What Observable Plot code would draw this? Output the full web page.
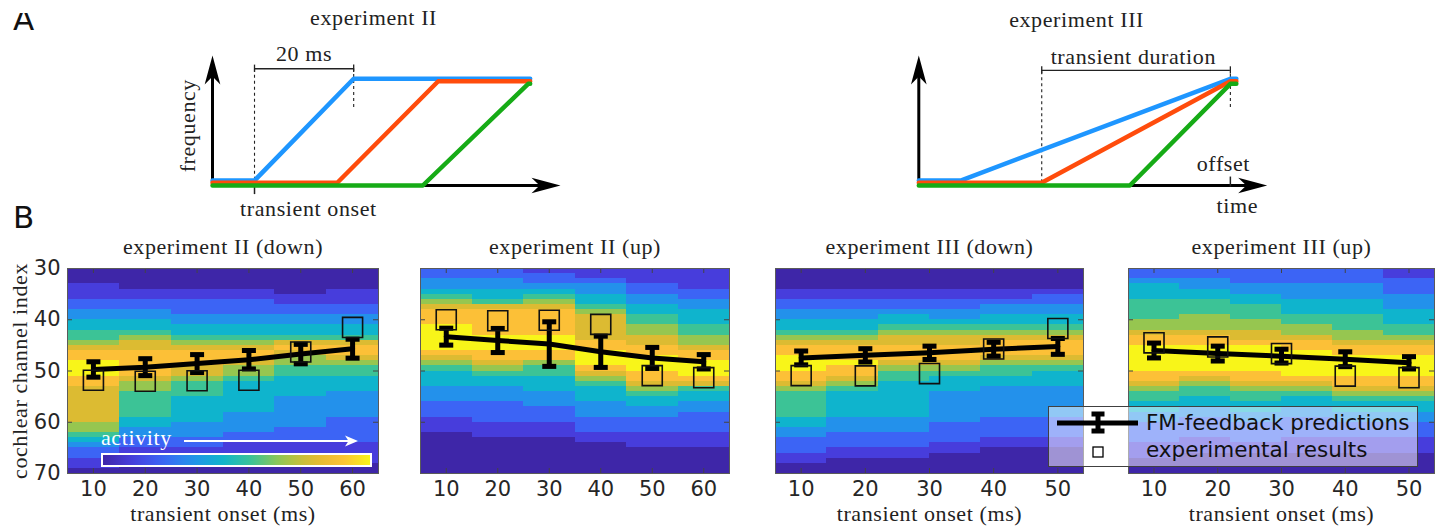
<!DOCTYPE html>
<html>
<head>
<meta charset="utf-8">
<script src="https://cdn.jsdelivr.net/npm/d3@7"></script>
<script src="https://cdn.jsdelivr.net/npm/@observablehq/plot@0.6"></script>
<style>
  html, body { margin: 0; padding: 0; background: #fff; }
  #fig { position: relative; width: 1444px; height: 529px; overflow: hidden; background: #fff; }
  #fig > * { position: absolute; }
</style>
</head>
<body>
<div id="fig"></div>
<script>
// ---------- Panel A: schematic frequency sweeps (time in ms, frequency in relative units) ----------
const expIIBlue  = [[0, 0.038], [8.45, 0.038], [28.4, 0.821], [63.9, 0.821]];
const expIIRed   = [[0, 0.021], [25.1, 0.021], [45.4, 0.802], [63.9, 0.802]];
const expIIGreen = [[0, 0], [42.3, 0], [63.5, 0.782], [63.9, 0.782]];
const expIIIBlue  = [[0, 0.038], [8.4, 0.038], [62.6, 0.821], [63.8, 0.821]];
const expIIIRed   = [[0, 0.021], [24.7, 0.021], [62.6, 0.802], [63.8, 0.802]];
const expIIIGreen = [[0, 0], [42.4, 0], [62.6, 0.782], [63.8, 0.782]];
const sweepColors = ["#1e96ff", "#ff4c0c", "#16ab16"];

// ---------- Panel B: channel activity and predictions ----------
const channelTicks = [30, 40, 50, 60, 70];
const onsetsII  = [10, 20, 30, 40, 50, 60];
const onsetsIII = [10, 20, 30, 40, 50];
const heatColsII  = [10, 20, 30, 40, 50, 60];
const heatColsIII = [10, 18, 26, 34, 42, 50];

const predIIdown = [49.7, 49.25, 48.55, 47.8, 46.7, 45.65];
const errIIdown  = [1.5, 1.65, 1.75, 1.8, 1.9, 1.85];
const obsIIdown  = [51.8, 52.0, 51.9, 51.8, 46.3, 41.5];

const predIIup = [43.3, 44.05, 44.75, 46.25, 47.45, 48.2];
const errIIup  = [1.65, 2.35, 4.35, 3.05, 2.05, 1.4];
const obsIIup  = [40.0, 40.2, 40.1, 40.9, 50.9, 51.3];

const predIIIdown = [47.45, 46.95, 46.45, 45.75, 45.2];
const errIIIdown  = [1.35, 1.3, 1.3, 1.35, 1.55];
const obsIIIdown  = [50.9, 50.95, 50.5, 45.7, 41.7];

const predIIIup = [46.0, 46.6, 47.1, 47.7, 48.4];
const errIIIup  = [1.45, 1.45, 1.35, 1.45, 1.2];
const obsIIIup  = [44.5, 45.3, 46.6, 51.0, 51.3];

// activity level (0 = none … 9 = max) per channel 30→69, one string per onset column
const heatIIdown = [
  "0001112233445567889998877777776654322110",
  "0000112233445677888887665555544332211100",
  "0000112223344567888776555444443332211100",
  "0000112223344567887665444444333322111000",
  "0000011223344578766554444333333222111000",
  "0000111223344578876554443333322222111100"
];
const heatIIup = [
  "2233456788899999876544433322211100000000",
  "2233445788888999887654433322221110000000",
  "1223456788888999886554443332221110000000",
  "1123344567777788999876544433322211000000",
  "1112233445566778899988765443322211100000",
  "1111223344455667889998754433222211100000"
];
const heatIIIdown = [
  "0000112233445678899988765555544332221100",
  "0000112233445678889887654444433322211000",
  "0000112234456778887655444444433322211000",
  "0000112233456778887654443333332222110000",
  "0000112334456788876554433333322221100000",
  "0000122334456788876544433333322221100000"
];
const heatIIIup = [
  "2234445555667889999988765544332222111000",
  "2233445556667889999987655443322221110000",
  "2223344555667789999988765544332222110000",
  "2223334445566788999998765443322221110000",
  "2223334445556678899998876544332221110000",
  "1122233344455678899998876544332221110000"
];

// colormap stops for activity levels 0..9
const parulaStops = ["#3e26a8", "#473ddc", "#3c64f5", "#2391eb", "#0fb4cd",
                     "#3cc396", "#96c650", "#dcbb32", "#fcc037", "#f8f519"];
const parula = d3.piecewise(d3.interpolateRgb, parulaStops);

const SERIF = "Liberation Serif";
const SANS = "DejaVu Sans";
const fig = document.getElementById("fig");

function place(node, left, top) {
  node.style.position = "absolute";
  node.style.left = left + "px";
  node.style.top = top + "px";
  fig.appendChild(node);
  return node;
}
function spaceSerif(svg) {
  svg.querySelectorAll("[font-family]").forEach(el => {
    if (el.getAttribute("font-family").includes("Serif")) el.setAttribute("letter-spacing", "0.6px");
  });
  return svg;
}

// filled "stealth" arrowheads with the tip at the origin
const arrowRight = {draw(ctx, size) {
  const r = Math.sqrt(size / Math.PI);
  ctx.moveTo(0, 0); ctx.lineTo(-r, -0.27 * r); ctx.lineTo(-0.72 * r, 0); ctx.lineTo(-r, 0.27 * r); ctx.closePath();
}};
const arrowUp = {draw(ctx, size) {
  const r = Math.sqrt(size / Math.PI);
  ctx.moveTo(0, 0); ctx.lineTo(-0.27 * r, r); ctx.lineTo(0, 0.72 * r); ctx.lineTo(0.27 * r, r); ctx.closePath();
}};
// error-bar cap: a short thick horizontal bar
const capSymbol = {draw(ctx, size) {
  const r = Math.sqrt(size / Math.PI);
  ctx.rect(-r, -0.36 * r, 2 * r, 0.72 * r);
}};

const serifText = {fontFamily: SERIF, fontSize: 22, fill: "#222", text: d => d};

function sweepPlot({width, xRange, sweeps, extra}) {
  const data = sweeps.flatMap((pts, k) => pts.map(([t, f]) => ({t, f, k})));
  return spaceSerif(Plot.plot({
    width, height: 230, margin: 0,
    x: {domain: [0, 70], range: xRange, axis: null},
    y: {domain: [0, 1], range: [185, 55], axis: null},
    style: {background: "transparent", overflow: "visible"},
    marks: [
      Plot.ruleY([0], {x1: 0, x2: 66, stroke: "#000", strokeWidth: 3}),
      Plot.ruleX([0], {y1: -0.012, y2: 0.86, stroke: "#000", strokeWidth: 3}),
      Plot.dot([{t: 70, f: 0}], {x: "t", y: "f", symbol: arrowRight, r: 29, fill: "#000"}),
      Plot.dot([{t: 0, f: 1}], {x: "t", y: "f", symbol: arrowUp, r: 29, fill: "#000"}),
      ...extra,
      ...[0, 1, 2].map(k => Plot.line(data.filter(d => d.k === k),
        {x: "t", y: "f", stroke: sweepColors[k], strokeWidth: 4.5}))
    ]
  }));
}

// experiment II schematic: fixed 20 ms transitions with shifted onsets
const onII = expIIBlue[1][0], endII = expIIBlue[2][0];
place(sweepPlot({
  width: 600, xRange: [212, 560],
  sweeps: [expIIBlue, expIIRed, expIIGreen],
  extra: [
    Plot.ruleX([onII], {y1: 0.04, y2: 0.898, stroke: "#222", strokeWidth: 1.1, strokeDasharray: "3,3"}),
    Plot.ruleX([onII], {y1: -0.07, y2: 0, stroke: "#222", strokeWidth: 1.5}),
    Plot.ruleX([endII], {y1: 0.6, y2: 0.898, stroke: "#222", strokeWidth: 1.1, strokeDasharray: "3,3"}),
    Plot.ruleY([0.898], {x1: onII, x2: endII, stroke: "#222", strokeWidth: 1.3}),
    Plot.ruleX([onII, endII], {y1: 0.87, y2: 0.926, stroke: "#222", strokeWidth: 1.3}),
    Plot.text(["experiment II"], {...serifText, x: 32.4, y: 1.231, lineAnchor: "bottom"}),
    Plot.text(["20 ms"], {...serifText, x: (onII + endII) / 2, y: 0.96, lineAnchor: "bottom"}),
    Plot.text(["frequency"], {...serifText, x: -5.0, y: 0.46, rotate: -90, textAnchor: "middle", lineAnchor: "middle"}),
    Plot.text(["transient onset"], {...serifText, x: 19.3, y: -0.238, lineAnchor: "bottom"})
  ]
}), 0, 0);

// experiment III schematic: transitions of different durations sharing one offset
const onIII = expIIIRed[1][0], offIII = expIIIRed[2][0];
place(sweepPlot({
  width: 400, xRange: [38.3, 386.7],
  sweeps: [expIIIBlue, expIIIRed, expIIIGreen],
  extra: [
    Plot.ruleX([onIII], {y1: 0.021, y2: 0.885, stroke: "#222", strokeWidth: 1.1, strokeDasharray: "3,3"}),
    Plot.ruleX([offIII], {y1: 0.6, y2: 0.885, stroke: "#222", strokeWidth: 1.1, strokeDasharray: "3,3"}),
    Plot.ruleX([offIII], {y1: -0.012, y2: 0.065, stroke: "#222", strokeWidth: 1.5}),
    Plot.ruleY([0.885], {x1: onIII, x2: offIII, stroke: "#222", strokeWidth: 1.3}),
    Plot.ruleX([onIII, offIII], {y1: 0.857, y2: 0.913, stroke: "#222", strokeWidth: 1.3}),
    Plot.text(["experiment III"], {...serifText, x: 31.7, y: 1.218, lineAnchor: "bottom"}),
    Plot.text(["transient duration"], {...serifText, x: 43.1, y: 0.938, lineAnchor: "bottom"}),
    Plot.text(["offset"], {...serifText, x: 61.2, y: 0.115, lineAnchor: "bottom"}),
    Plot.text(["time"], {...serifText, x: 64.0, y: -0.215, lineAnchor: "bottom"})
  ]
}), 880, 0);

// ---------- Panel B heatmaps ----------
function panel(o) {
  const H = 299, mT = 38, mB = 56;
  const half = (o.cols[1] - o.cols[0]) / 2;
  const xDom = [o.cols[0] - half, o.cols[o.cols.length - 1] + half];
  const fw = o.width - o.mLeft - o.mRight, fh = H - mT - mB;
  const tx = 5 * (xDom[1] - xDom[0]) / fw, ty = 5 * 40 / fh;
  const cells = o.heat.flatMap((col, j) => Array.from(col, (ch, i) => ({
    x1: o.cols[j] - half, x2: o.cols[j] + half, y1: 30 + i, y2: 31 + i, v: +ch
  })));
  const pts = o.onsets.map((x, i) => ({
    x, y: o.pred[i], lo: o.pred[i] - o.err[i], hi: o.pred[i] + o.err[i], obs: o.obs[i]
  }));
  const inner = channelTicks.slice(1, -1);
  const tickStyle = {stroke: "#444", strokeWidth: 1};
  const marks = [
    Plot.rect(cells, {x1: "x1", x2: "x2", y1: "y1", y2: "y2", fill: "v", shapeRendering: "crispEdges"}),
    Plot.ruleX(o.xTicks, {y1: 30, y2: 30 + ty, ...tickStyle}),
    Plot.ruleX(o.xTicks, {y1: 70 - ty, y2: 70, ...tickStyle}),
    Plot.ruleY(inner, {x1: xDom[0], x2: xDom[0] + tx, ...tickStyle}),
    Plot.ruleY(inner, {x1: xDom[1] - tx, x2: xDom[1], ...tickStyle}),
    Plot.frame({stroke: "#5a5a5a", strokeWidth: 1}),
    Plot.line(pts, {x: "x", y: "y", stroke: "#000", strokeWidth: 5}),
    Plot.ruleX(pts, {x: "x", y1: "lo", y2: "hi", stroke: "#000", strokeWidth: 5}),
    Plot.dot(pts, {x: "x", y: "lo", symbol: capSymbol, r: 7, fill: "#000"}),
    Plot.dot(pts, {x: "x", y: "hi", symbol: capSymbol, r: 7, fill: "#000"}),
    Plot.dot(pts, {x: "x", y: "obs", symbol: "square", r: 11.3, fill: "none", stroke: "#111", strokeWidth: 1.6}),
    Plot.axisX({ticks: o.xTicks, tickSize: 0, tickPadding: 8, fontSize: 21, fontFamily: SANS, color: "#262626", label: null}),
    Plot.text([o.title], {...serifText, frameAnchor: "top", dy: -15, lineAnchor: "bottom"})
  ];
  if (o.yAxis) {
    marks.push(
      Plot.axisY({ticks: channelTicks, tickSize: 0, tickPadding: 7, fontSize: 21, fontFamily: SANS, color: "#262626", label: null}),
      Plot.text(["cochlear channel index"], {...serifText, frameAnchor: "left", dx: -48, rotate: -90,
        textAnchor: "middle", lineAnchor: "middle"})
    );
  }
  if (o.xLabel) {
    marks.push(Plot.text(["transient onset (ms)"], {...serifText, frameAnchor: "bottom", dy: 47, lineAnchor: "bottom"}));
  }
  return place(spaceSerif(Plot.plot({
    width: o.width, height: H,
    marginLeft: o.mLeft, marginRight: o.mRight, marginTop: mT, marginBottom: mB,
    x: {domain: xDom, axis: null, label: null},
    y: {domain: [30, 70], reverse: true, axis: null, label: null},
    color: {type: "linear", domain: [0, 9], interpolate: parula},
    style: {background: "transparent", overflow: "visible"},
    marks
  })), o.left, 230);
}

panel({left: 0, width: 390, mLeft: 67, mRight: 12, cols: heatColsII, heat: heatIIdown, xTicks: onsetsII,
       onsets: onsetsII, pred: predIIdown, err: errIIdown, obs: obsIIdown,
       title: "experiment II (down)", yAxis: true, xLabel: true});
panel({left: 390, width: 350, mLeft: 30, mRight: 11, cols: heatColsII, heat: heatIIup, xTicks: onsetsII,
       onsets: onsetsII, pred: predIIup, err: errIIup, obs: obsIIup,
       title: "experiment II (up)", yAxis: false, xLabel: false});
panel({left: 745, width: 350, mLeft: 30, mRight: 12, cols: heatColsIII, heat: heatIIIdown, xTicks: onsetsIII,
       onsets: onsetsIII, pred: predIIIdown, err: errIIIdown, obs: obsIIIdown,
       title: "experiment III (down)", yAxis: false, xLabel: true});
panel({left: 1098, width: 346, mLeft: 30, mRight: 10, cols: heatColsIII, heat: heatIIIup, xTicks: onsetsIII,
       onsets: onsetsIII, pred: predIIIup, err: errIIIup, obs: obsIIIup,
       title: "experiment III (up)", yAxis: false, xLabel: true});

// ---------- activity colour ramp inside the first heatmap ----------
{
  const svg = d3.create("svg").attr("width", 390).attr("height", 299).style("overflow", "visible");
  const grad = svg.append("defs").append("linearGradient").attr("id", "activityRamp");
  d3.range(0, 1.0001, 0.05).forEach(t => grad.append("stop").attr("offset", t).attr("stop-color", parula(t)));
  svg.append("text").attr("x", 101).attr("y", 215).attr("fill", "#fff")
    .attr("font-family", SERIF).attr("font-size", 22).attr("letter-spacing", "0.6px").text("activity");
  svg.append("line").attr("x1", 184).attr("x2", 350).attr("y1", 211).attr("y2", 211)
    .attr("stroke", "#fff").attr("stroke-width", 2);
  svg.append("path").attr("d", "M358,211 L345,205.5 L348.5,211 L345,216.5 Z").attr("fill", "#fff");
  svg.append("rect").attr("x", 102).attr("y", 224).attr("width", 269).attr("height", 12)
    .attr("fill", "url(#activityRamp)").attr("stroke", "#fff").attr("stroke-width", 2);
  place(svg.node(), 0, 230);
}

// ---------- legend ----------
{
  const box = document.createElement("div");
  Object.assign(box.style, {width: "370px", height: "61px", boxSizing: "border-box",
    background: "rgba(255,255,255,0.5)", border: "1px solid #404040"});
  const svg = d3.select(box).append("svg").attr("width", 370).attr("height", 61)
    .style("position", "absolute").style("left", "-1px").style("top", "-1px");
  svg.append("line").attr("x1", 9).attr("x2", 90).attr("y1", 17).attr("y2", 17).attr("stroke", "#000").attr("stroke-width", 5);
  svg.append("line").attr("x1", 50).attr("x2", 50).attr("y1", 8).attr("y2", 25).attr("stroke", "#000").attr("stroke-width", 5);
  svg.append("rect").attr("x", 43.5).attr("y", 5.5).attr("width", 13).attr("height", 5).attr("fill", "#000");
  svg.append("rect").attr("x", 43.5).attr("y", 22.5).attr("width", 13).attr("height", 5).attr("fill", "#000");
  svg.append("rect").attr("x", 45).attr("y", 41).attr("width", 10).attr("height", 10)
    .attr("fill", "none").attr("stroke", "#000").attr("stroke-width", 1.3);
  const t = svg.append("g").attr("font-family", SANS).attr("font-size", 21.5).attr("fill", "#111");
  t.append("text").attr("x", 98).attr("y", 24).text("FM-feedback predictions");
  t.append("text").attr("x", 98).attr("y", 51).text("experimental results");
  place(box, 1048, 406);
}

// ---------- panel letters ----------
{
  const svg = d3.create("svg").attr("width", 60).attr("height", 240);
  svg.append("clipPath").attr("id", "clipA").append("rect").attr("x", 0).attr("y", 13).attr("width", 60).attr("height", 30);
  const g = svg.append("g").attr("font-family", SANS).attr("font-size", 31).attr("fill", "#111");
  g.append("text").attr("x", 13).attr("y", 30).attr("clip-path", "url(#clipA)").text("A");
  g.append("text").attr("x", 13).attr("y", 228).text("B");
  place(svg.node(), 0, 0);
}
</script>
</body>
</html>
